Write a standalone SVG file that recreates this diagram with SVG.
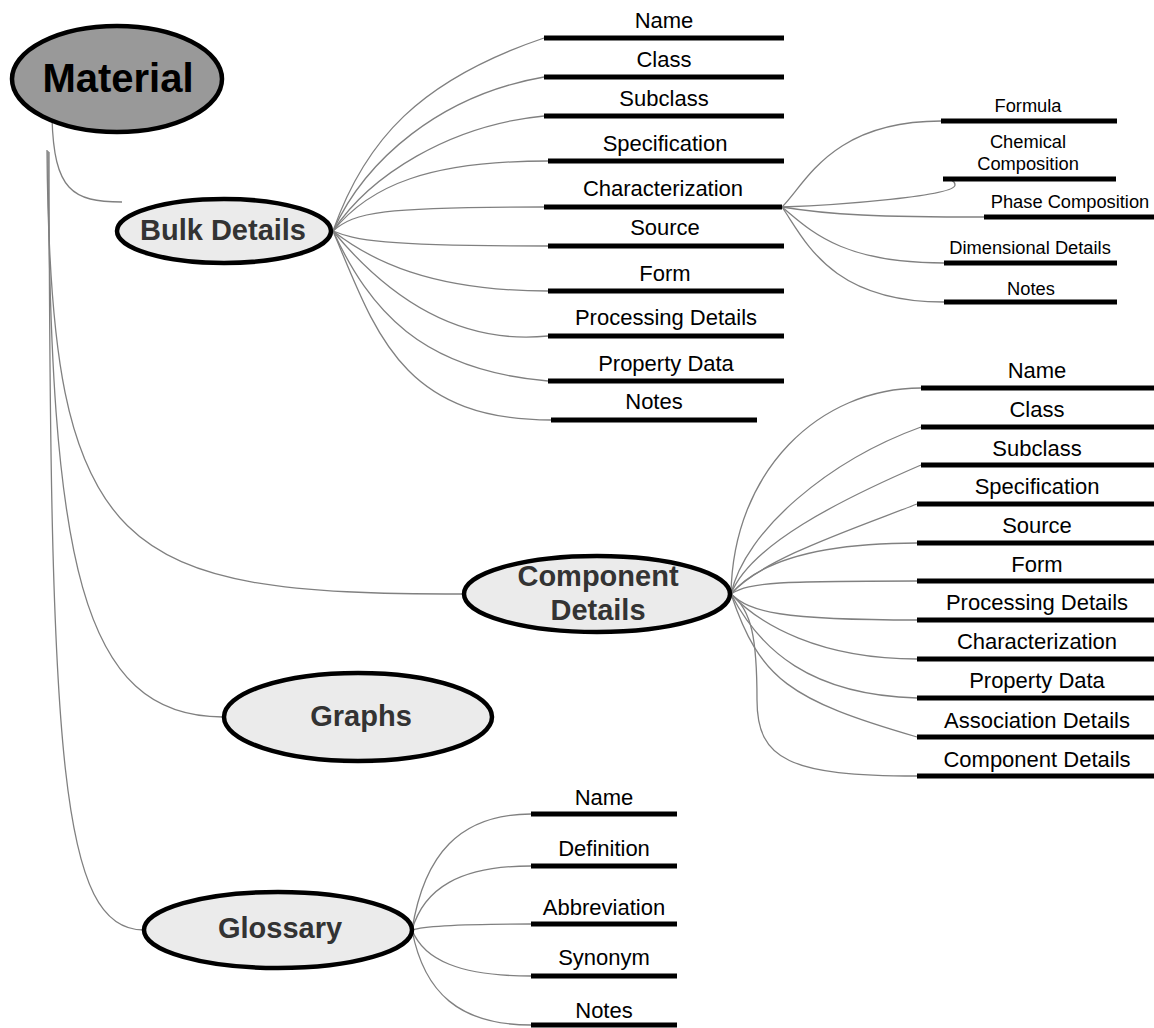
<svg xmlns="http://www.w3.org/2000/svg" width="1154" height="1028" viewBox="0 0 1154 1028">
<style>
.c{fill:none;stroke:#808080;stroke-width:1.3}
.bar{stroke:#000;stroke-width:5}
.t{font-family:"Liberation Sans",Arial,sans-serif;font-size:22px;fill:#000;text-anchor:middle}
.s{font-family:"Liberation Sans",Arial,sans-serif;font-size:18.3px;fill:#000;text-anchor:middle}
.h{font-family:"Liberation Sans",Arial,sans-serif;font-size:29px;font-weight:bold;fill:#333;text-anchor:middle}
.e{fill:#ebebeb;stroke:#000;stroke-width:4.5}
</style>
<rect width="1154" height="1028" fill="#fff"/>
<g id="connectors">
<path class="c" d="M52,118 C54,190 72,202 122,202"/>
<path class="c" d="M47,150 C50,560 120,594 463,594"/>
<path class="c" d="M48,151 C50,560 80,717 223,717"/>
<path class="c" d="M49,152 C50,760 60,930 144,930"/>
<path class="c" d="M333,231 C365,140 420,80 544,38"/>
<path class="c" d="M333,231 C365,160 440,95 544,77"/>
<path class="c" d="M333,231 C370,175 450,125 544,116"/>
<path class="c" d="M333,231 C370,185 430,161 548,161"/>
<path class="c" d="M333,231 C355,212 380,207 544,207"/>
<path class="c" d="M333,231 C355,240 380,246 548,246"/>
<path class="c" d="M333,231 C370,260 430,291 548,291"/>
<path class="c" d="M333,231 C390,300 460,345 548,336"/>
<path class="c" d="M333,231 C370,310 420,370 548,381"/>
<path class="c" d="M333,231 C375,330 400,420 551,420"/>
<path class="c" d="M782,207 C805,185 830,121 941,121"/>
<path class="c" d="M782,207 C840,205 955,196 955,185 C955,180 950,179 943,179"/>
<path class="c" d="M782,207 C830,215 880,217 984,217"/>
<path class="c" d="M782,207 C810,230 840,263 944,263"/>
<path class="c" d="M782,207 C805,240 830,302 944,302"/>
<path class="c" d="M731,594 C733,470 820,388 921,388"/>
<path class="c" d="M731,594 C745,530 830,460 921,427"/>
<path class="c" d="M731,594 C750,545 840,500 921,465"/>
<path class="c" d="M731,594 C760,560 850,530 917,504"/>
<path class="c" d="M731,594 C760,560 820,543 917,543"/>
<path class="c" d="M731,594 C750,582 780,581 917,581"/>
<path class="c" d="M731,594 C750,612 780,620 917,620"/>
<path class="c" d="M731,594 C760,625 820,659 917,659"/>
<path class="c" d="M731,594 C760,650 810,695 917,698"/>
<path class="c" d="M731,594 C760,680 790,700 917,737"/>
<path class="c" d="M731,594 C752,610 757,640 757,700 C757,760 790,776 917,776"/>
<path class="c" d="M412,930 C424,854.6 459.6,814 531,814"/>
<path class="c" d="M412,930 C424,888.4 459.6,866 531,866"/>
<path class="c" d="M412,930 C424,926 459.6,924 531,924"/>
<path class="c" d="M412,930 C424,960 459.6,976 531,976"/>
<path class="c" d="M412,930 C424,993 459.6,1025 531,1025"/>
</g>
<g id="material">
<ellipse cx="117" cy="79" rx="105" ry="53" fill="#999" stroke="#000" stroke-width="4.5"/>
<text x="118" y="92" font-family="Liberation Sans,Arial,sans-serif" font-size="40" font-weight="bold" fill="#000" text-anchor="middle">Material</text>
</g>
<g id="bulk-details">
<ellipse class="e" cx="224" cy="231" rx="107" ry="32"/>
<text class="h" x="223" y="240">Bulk Details</text>
</g>
<g id="bulk-children">
<line class="bar" x1="544" y1="38" x2="784" y2="38"/><text class="t" x="664" y="28">Name</text>
<line class="bar" x1="544" y1="77" x2="784" y2="77"/><text class="t" x="664" y="67">Class</text>
<line class="bar" x1="544" y1="116" x2="784" y2="116"/><text class="t" x="664" y="106">Subclass</text>
<line class="bar" x1="548" y1="161" x2="784" y2="161"/><text class="t" x="665" y="151">Specification</text>
<line class="bar" x1="544" y1="207" x2="782" y2="207"/><text class="t" x="663" y="196">Characterization</text>
<line class="bar" x1="548" y1="246" x2="784" y2="246"/><text class="t" x="665" y="235">Source</text>
<line class="bar" x1="548" y1="291" x2="784" y2="291"/><text class="t" x="665" y="281">Form</text>
<line class="bar" x1="548" y1="336" x2="784" y2="336"/><text class="t" x="666" y="325">Processing Details</text>
<line class="bar" x1="548" y1="381" x2="784" y2="381"/><text class="t" x="666" y="371">Property Data</text>
<line class="bar" x1="551" y1="420" x2="757" y2="420"/><text class="t" x="654" y="409">Notes</text>
</g>
<g id="characterization-children">
<line class="bar" x1="941" y1="121" x2="1117" y2="121"/><text class="s" x="1028" y="112">Formula</text>
<line class="bar" x1="943" y1="179" x2="1116" y2="179"/><text class="s" x="1028" y="148">Chemical</text><text class="s" x="1028" y="170">Composition</text>
<line class="bar" x1="984" y1="217" x2="1154" y2="217"/><text class="s" x="1070" y="208">Phase Composition</text>
<line class="bar" x1="944" y1="263" x2="1117" y2="263"/><text class="s" x="1030" y="254">Dimensional Details</text>
<line class="bar" x1="944" y1="302" x2="1117" y2="302"/><text class="s" x="1031" y="295">Notes</text>
</g>
<g id="component-details">
<ellipse class="e" cx="597" cy="594" rx="133" ry="38"/>
<text class="h" x="598" y="586">Component</text>
<text class="h" x="598" y="620">Details</text>
</g>
<g id="component-children">
<line class="bar" x1="921" y1="388" x2="1154" y2="388"/><text class="t" x="1037" y="378">Name</text>
<line class="bar" x1="921" y1="427" x2="1154" y2="427"/><text class="t" x="1037" y="417">Class</text>
<line class="bar" x1="921" y1="465" x2="1154" y2="465"/><text class="t" x="1037" y="456">Subclass</text>
<line class="bar" x1="917" y1="504" x2="1154" y2="504"/><text class="t" x="1037" y="494">Specification</text>
<line class="bar" x1="917" y1="543" x2="1154" y2="543"/><text class="t" x="1037" y="533">Source</text>
<line class="bar" x1="917" y1="581" x2="1154" y2="581"/><text class="t" x="1037" y="572">Form</text>
<line class="bar" x1="917" y1="620" x2="1154" y2="620"/><text class="t" x="1037" y="610">Processing Details</text>
<line class="bar" x1="917" y1="659" x2="1154" y2="659"/><text class="t" x="1037" y="649">Characterization</text>
<line class="bar" x1="917" y1="698" x2="1154" y2="698"/><text class="t" x="1037" y="688">Property Data</text>
<line class="bar" x1="917" y1="737" x2="1154" y2="737"/><text class="t" x="1037" y="728" font-size="19.5">Association Details</text>
<line class="bar" x1="917" y1="776" x2="1154" y2="776"/><text class="t" x="1037" y="767" font-size="19.5">Component Details</text>
</g>
<g id="graphs">
<ellipse class="e" cx="358" cy="717" rx="134" ry="44"/>
<text class="h" x="361" y="726">Graphs</text>
</g>
<g id="glossary">
<ellipse class="e" cx="278" cy="930" rx="134" ry="38"/>
<text class="h" x="280" y="938">Glossary</text>
</g>
<g id="glossary-children">
<line class="bar" x1="531" y1="814" x2="677" y2="814"/><text class="t" x="604" y="805">Name</text>
<line class="bar" x1="531" y1="866" x2="677" y2="866"/><text class="t" x="604" y="856">Definition</text>
<line class="bar" x1="531" y1="924" x2="677" y2="924"/><text class="t" x="604" y="915">Abbreviation</text>
<line class="bar" x1="531" y1="976" x2="677" y2="976"/><text class="t" x="604" y="965">Synonym</text>
<line class="bar" x1="531" y1="1025" x2="677" y2="1025"/><text class="t" x="604" y="1018">Notes</text>
</g>
</svg>
